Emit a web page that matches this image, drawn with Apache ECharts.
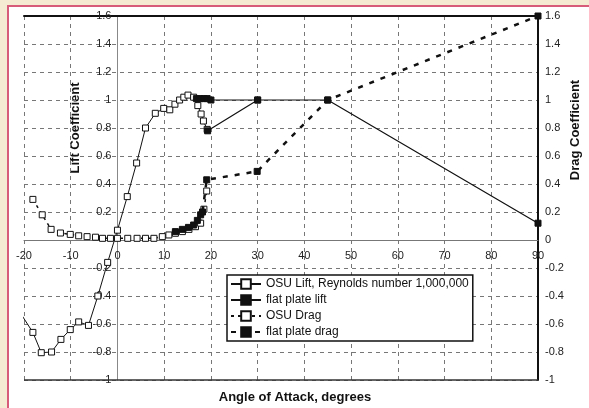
<!DOCTYPE html>
<html><head><meta charset="utf-8">
<script src="https://cdn.jsdelivr.net/npm/echarts@6/dist/echarts.min.js"></script>
<style>
html,body{margin:0;padding:0;background:#f5ead2;width:589px;height:408px;overflow:hidden}
#paper{position:absolute;left:7px;top:5px;right:0;bottom:0;background:#fff;border-left:2px solid #d65c7a;border-top:2px solid #d65c7a}
#chart{position:absolute;left:0;top:0;width:589px;height:408px}
</style></head><body><div id="paper"></div><div id="chart"></div>
<script>
// ---- data ----
const xAxisRange = [-20, 90, 10];      // min, max, interval (degrees)
const yAxisRange = [-1, 1.6, 0.2];     // min, max, interval (coefficient)

const osuLiftAngle = [-21, -18.1, -16.3, -14.1, -12.1, -10.1, -8.3, -6.2, -4.2, -2.1, 0, 2.1, 4.1, 6.0, 8.1, 9.9, 11.2, 12.3, 13.3, 14.2, 15.1, 16.3, 17.2, 17.9, 18.4, 19.2];
const osuLiftValue = [-0.51, -0.66, -0.805, -0.80, -0.71, -0.64, -0.585, -0.61, -0.40, -0.16, 0.07, 0.31, 0.55, 0.80, 0.905, 0.94, 0.93, 0.97, 1.0, 1.02, 1.035, 1.02, 0.96, 0.90, 0.85, 0.79];

const flatLiftAngle = [16.9, 17.7, 18.5, 19.2, 20, 30, 19.3, 30, 45, 90];
const flatLiftValue = [1.01, 1.01, 1.01, 1.01, 1.0, 1.0, 0.78, 1.0, 1.0, 0.12];

const osuDragAngle = [-18.1, -16.1, -14.2, -12.2, -10.1, -8.3, -6.5, -4.7, -3.2, -1.5, 0, 2.2, 4.2, 6.0, 7.8, 9.6, 11.0, 12.4, 13.9, 15.3, 16.7, 17.8, 18.5, 19.1];
const osuDragValue = [0.29, 0.18, 0.076, 0.05, 0.04, 0.03, 0.024, 0.02, 0.012, 0.012, 0.012, 0.012, 0.012, 0.012, 0.012, 0.024, 0.036, 0.048, 0.06, 0.076, 0.095, 0.12, 0.22, 0.35];

const flatDragAngle = [12.4, 13.9, 15.2, 16.3, 17.1, 17.8, 18.2, 19.1, 29.9, 45, 90];
const flatDragValue = [0.06, 0.076, 0.09, 0.107, 0.14, 0.18, 0.20, 0.43, 0.49, 1.0, 1.6];

const seriesNames = ['OSU Lift, Reynolds number 1,000,000', 'flat plate lift', 'OSU Drag', 'flat plate drag'];
const xTitle = 'Angle of Attack, degrees';
const yLeftTitle = 'Lift Coefficient';
const yRightTitle = 'Drag Coefficient';

// ---- build ----
const pairs = (a, b) => a.map((x, i) => [x, b[i]]);
const FONT = 'Liberation Sans, Arial, sans-serif';
const W = 589, H = 408;
const G = {left: 24, right: 51, top: 16, bottom: 28};
const gridW = W - G.left - G.right, gridH = H - G.top - G.bottom;
// place the crossing axes at the zero of the other axis (offset measured from the grid edge)
const yZeroOffset = -((0 - xAxisRange[0]) / (xAxisRange[1] - xAxisRange[0])) * gridW;
const xZeroOffset = -((0 - yAxisRange[0]) / (yAxisRange[1] - yAxisRange[0])) * gridH;

const chart = echarts.init(document.getElementById('chart'), null, {renderer: 'canvas'});

const fmt = v => {
  const r = Math.round(v * 10) / 10;
  return r === 0 ? '' : String(r);
};
const fmtRight = v => String(Math.round(v * 10) / 10);

const baseX = {type: 'value', min: xAxisRange[0], max: xAxisRange[1], interval: xAxisRange[2]};
const baseY = {type: 'value', min: yAxisRange[0], max: yAxisRange[1], interval: yAxisRange[2]};

chart.setOption({
  animation: false,
  backgroundColor: 'transparent',
  grid: {left: G.left, right: G.right, top: G.top, bottom: G.bottom, containLabel: false},
  xAxis: [
    Object.assign({}, baseX, {
      position: 'bottom', offset: xZeroOffset,
      axisLine: {onZero: false, lineStyle: {color: '#777', width: 1}},
      axisTick: {show: false},
      axisLabel: {fontSize: 11, color: '#222', fontFamily: FONT, margin: 10},
      splitLine: {show: true, lineStyle: {color: '#777', type: [4, 4], width: 1}}
    }),
    Object.assign({}, baseX, {
      position: 'top',
      axisLine: {onZero: false, lineStyle: {color: '#111', width: 2}},
      axisTick: {show: false}, axisLabel: {show: false}, splitLine: {show: false}
    })
  ],
  yAxis: [
    Object.assign({}, baseY, {
      position: 'left', offset: yZeroOffset,
      axisLine: {onZero: false, lineStyle: {color: '#888', width: 1}},
      axisTick: {show: false},
      axisLabel: {fontSize: 11, color: '#222', fontFamily: FONT, margin: 6, formatter: fmt},
      splitLine: {show: true, lineStyle: {color: '#777', type: [4, 4], width: 1}}
    }),
    Object.assign({}, baseY, {
      position: 'right',
      axisLine: {onZero: false, lineStyle: {color: '#111', width: 2}},
      axisTick: {show: false},
      axisLabel: {fontSize: 11, color: '#222', fontFamily: FONT, margin: 7, formatter: fmtRight},
      splitLine: {show: false}
    })
  ],
  legend: {
    orient: 'vertical', left: 227, top: 275,
    padding: [3, 4, 3, 3], itemGap: 4, itemWidth: 30, itemHeight: 12,
    backgroundColor: '#fff', borderColor: '#111', borderWidth: 1.5, borderRadius: 0,
    textStyle: {fontSize: 12, color: '#111', fontFamily: FONT},
    data: seriesNames
  },
  graphic: [
    {type: 'line', z: 10, shape: {x1: G.left, y1: H - G.bottom, x2: W - G.right, y2: H - G.bottom},
      style: {stroke: '#333', lineWidth: 1.5}},
    {type: 'text', x: 295, y: 397, style: {text: xTitle, font: 'bold 13px ' + FONT, fill: '#111', align: 'center', verticalAlign: 'middle'}},
    {type: 'text', x: 75, y: 128, rotation: Math.PI / 2, style: {text: yLeftTitle, font: 'bold 13px ' + FONT, fill: '#111', align: 'center', verticalAlign: 'middle'}},
    {type: 'text', x: 575, y: 130, rotation: Math.PI / 2, style: {text: yRightTitle, font: 'bold 13px ' + FONT, fill: '#111', align: 'center', verticalAlign: 'middle'}}
  ],
  series: [
    {
      name: seriesNames[0], type: 'line', xAxisIndex: 0, yAxisIndex: 0,
      data: pairs(osuLiftAngle, osuLiftValue), clip: true, z: 2,
      symbol: 'rect', symbolSize: 6, showAllSymbol: true,
      lineStyle: {color: '#111', width: 1},
      itemStyle: {color: '#fff', borderColor: '#111', borderWidth: 1}
    },
    {
      name: seriesNames[1], type: 'line', xAxisIndex: 0, yAxisIndex: 0,
      data: pairs(flatLiftAngle, flatLiftValue), clip: true, z: 4,
      symbol: 'rect', symbolSize: 6, showAllSymbol: true,
      lineStyle: {color: '#111', width: 1.2},
      itemStyle: {color: '#111', borderColor: '#111', borderWidth: 1}
    },
    {
      name: seriesNames[2], type: 'line', xAxisIndex: 0, yAxisIndex: 1,
      data: pairs(osuDragAngle, osuDragValue), clip: true, z: 3,
      symbol: 'rect', symbolSize: 6, showAllSymbol: true,
      lineStyle: {color: '#111', width: 1.5, type: [3, 4]},
      itemStyle: {color: '#fff', borderColor: '#111', borderWidth: 1}
    },
    {
      name: seriesNames[3], type: 'line', xAxisIndex: 0, yAxisIndex: 1,
      data: pairs(flatDragAngle, flatDragValue), clip: true, z: 5,
      symbol: 'rect', symbolSize: 6, showAllSymbol: true,
      lineStyle: {color: '#111', width: 2.5, type: [5, 7]},
      itemStyle: {color: '#111', borderColor: '#111', borderWidth: 1}
    }
  ]
});
</script></body></html>
